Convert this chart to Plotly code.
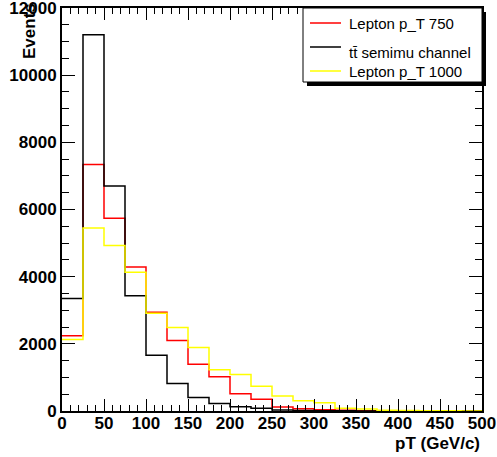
import plotly.graph_objects as go

bin_edges = list(range(0, 525, 25))
lepton_750 = [2240, 7340, 5740, 4290, 2940, 2100, 1390, 1020, 515, 350, 120, 70, 40, 20, 10, 5, 3, 2, 1, 1]
ttbar_semimu = [3350, 11200, 6700, 3430, 1660, 820, 400, 220, 130, 80, 30, 15, 8, 5, 3, 2, 1, 1, 0, 0]
lepton_1000 = [2130, 5450, 4930, 4130, 2910, 2490, 1890, 1230, 1090, 740, 445, 305, 245, 80, 60, 25, 15, 10, 5, 3]
x_ticks = list(range(0, 550, 50))
y_ticks = list(range(0, 14000, 2000))

series = [
    ("Lepton p_T 750", lepton_750, "#ff0000"),
    ("t\u0074\u0304 semimu channel", ttbar_semimu, "#000000"),
    ("Lepton p_T 1000", lepton_1000, "#ffff00"),
]

W, H = 497, 457
ML, MR, MT, MB = 62, 15, 8, 46
PW, PH = W - ML - MR, H - MT - MB


def px(xp):
    return (xp - ML) / PW


def py(yp):
    return (MT + PH - yp) / PH


fig = go.Figure()
for name, vals, col in series:
    fig.add_trace(go.Scatter(
        x=bin_edges, y=vals + [vals[-1]], mode="lines", line_shape="hv",
        line=dict(color=col, width=1.5), name=name, showlegend=False,
    ))

FONT = "Liberation Sans, Arial"
tickfont = dict(family=FONT, size=17, color="black", weight="bold")

fig.update_xaxes(range=[0, 500], tickvals=x_ticks, ticktext=[str(v) for v in x_ticks],
                 ticks="inside", ticklen=12, ticklabelstandoff=-4, automargin=False,
                 ticklabeloverflow="allow",
                 tickwidth=1, tickcolor="black", showline=True, linecolor="black", linewidth=2,
                 mirror="ticks", showgrid=False, zeroline=False, tickfont=tickfont,
                 minor=dict(dtick=10, ticks="inside", ticklen=6, tickcolor="black", tickwidth=1))
fig.update_yaxes(range=[0, 12000], tickvals=y_ticks, ticktext=[str(v) for v in y_ticks],
                 ticks="inside", ticklen=13, automargin=False,
                 ticklabeloverflow="allow",
                 tickwidth=1, tickcolor="black", showline=True, linecolor="black", linewidth=2,
                 mirror="ticks", showgrid=False, zeroline=False, tickfont=tickfont,
                 minor=dict(dtick=500, ticks="inside", ticklen=7, tickcolor="black", tickwidth=1))

# legend box (ROOT style with drop shadow)
shapes = [
    dict(type="rect", xref="paper", yref="paper", x0=px(307), x1=px(486), y0=py(86), y1=py(12),
         fillcolor="black", line=dict(width=0), layer="above"),
    dict(type="rect", xref="paper", yref="paper", x0=px(303), x1=px(482), y0=py(82), y1=py(8),
         fillcolor="white", line=dict(color="black", width=1), layer="above"),
]
entry_line_y = [23, 47, 71]
entry_text_y = [23, 52, 71]
annotations = []
for (name, vals, col), ly, ty in zip(series, entry_line_y, entry_text_y):
    shapes.append(dict(type="line", xref="paper", yref="paper", x0=px(310), x1=px(341),
                       y0=py(ly), y1=py(ly), line=dict(color=col, width=1.5), layer="above"))
    annotations.append(dict(text=name, xref="paper", yref="paper", x=px(347), y=py(ty),
                            xanchor="left", yanchor="middle", showarrow=False,
                            font=dict(family=FONT, size=15, color="black")))

annotations += [
    dict(text="pT (GeV/c)", xref="paper", yref="paper", x=1, y=py(443),
         xanchor="right", yanchor="middle", showarrow=False,
         font=dict(size=17, weight="bold", family=FONT, color="black")),
    dict(text="Events", xref="paper", yref="paper", x=px(30), y=py(1),
         xanchor="center", yanchor="top", textangle=-90, showarrow=False,
         font=dict(size=17, weight="bold", family=FONT, color="black")),
]

fig.update_layout(
    width=W, height=H, margin=dict(l=ML, r=MR, t=MT, b=MB, autoexpand=False),
    paper_bgcolor="white", plot_bgcolor="white",
    font=dict(family=FONT, color="black"),
    shapes=shapes, annotations=annotations,
)

fig.write_html("out.html")
